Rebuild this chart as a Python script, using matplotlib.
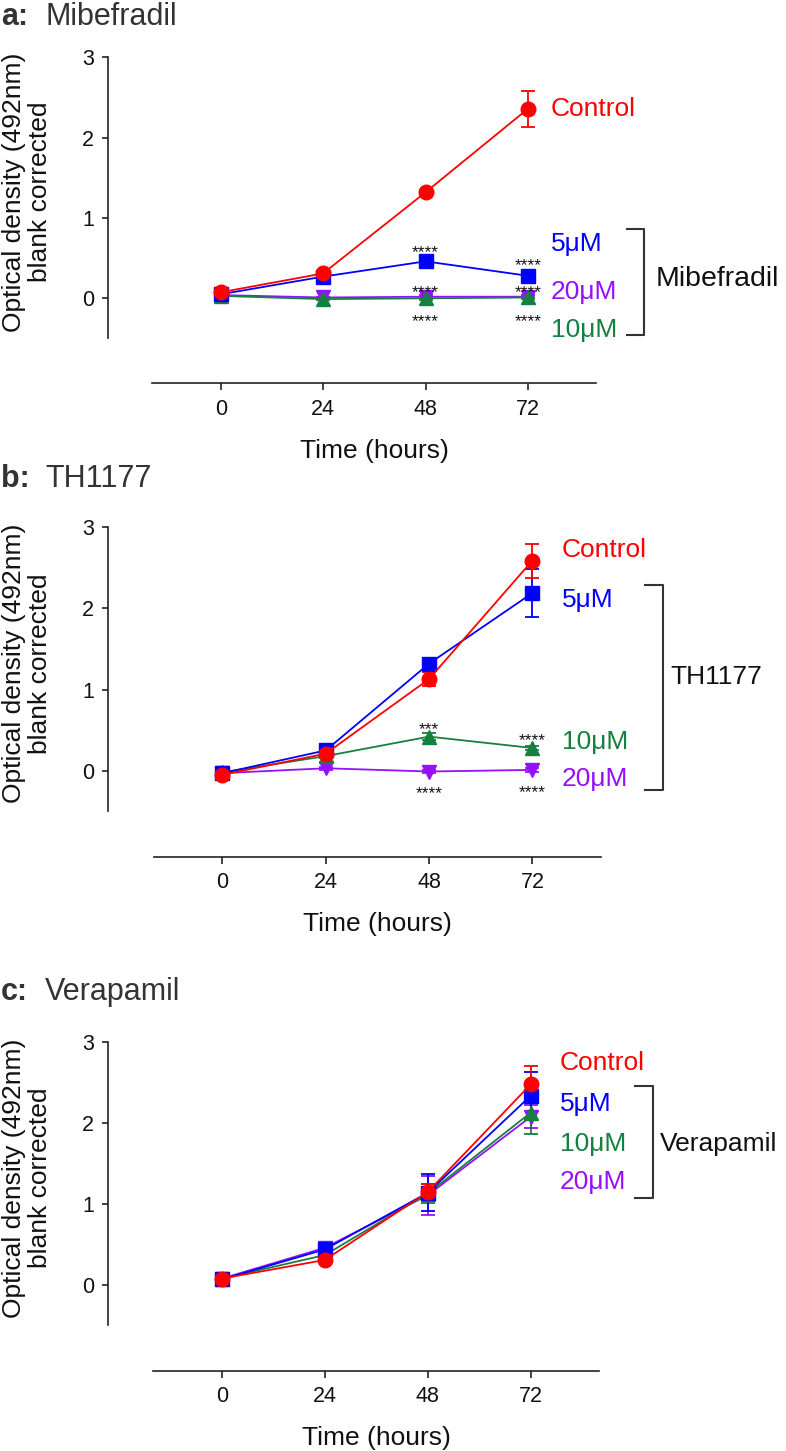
import matplotlib
matplotlib.use("Agg")
import matplotlib.pyplot as plt
from matplotlib.transforms import offset_copy

plt.rcParams['font.family'] = ['Liberation Sans', 'DejaVu Sans']

W, H = 786, 1451
DPI = 100

# ---------------- data ----------------
time_h = [0, 24, 48, 72]
time_ticks = [0, 24, 48, 72]
y_ticks = [0, 1, 2, 3]
groups = ["Control", "5μM", "10μM", "20μM"]
colors = {"Control": "#FF0000", "5μM": "#0000FF", "10μM": "#158040", "20μM": "#9510FF"}
markers = {"Control": "o", "5μM": "s", "10μM": "^", "20μM": "v"}

# Panel a: Mibefradil
mib_control = [0.075, 0.31, 1.32, 2.36]
mib_5 = [0.05, 0.27, 0.46, 0.28]
mib_10 = [0.03, -0.01, 0.00, 0.01]
mib_20 = [0.04, 0.01, 0.02, 0.02]
mib_control_err = [0.01, 0.02, 0.03, 0.225]
mib_5_err = [0.01, 0.02, 0.03, 0.02]
mib_10_err = [0.01, 0.01, 0.02, 0.02]
mib_20_err = [0.01, 0.01, 0.02, 0.02]

# Panel b: TH1177
th_control = [-0.05, 0.21, 1.13, 2.59]
th_5 = [-0.03, 0.25, 1.32, 2.19]
th_10 = [-0.02, 0.18, 0.42, 0.28]
th_20 = [-0.03, 0.03, -0.01, 0.01]
th_control_err = [0.02, 0.03, 0.09, 0.21]
th_5_err = [0.02, 0.03, 0.06, 0.30]
th_10_err = [0.02, 0.02, 0.04, 0.03]
th_20_err = [0.02, 0.02, 0.02, 0.02]

# Panel c: Verapamil
ver_control = [0.08, 0.31, 1.15, 2.48]
ver_5 = [0.07, 0.44, 1.14, 2.34]
ver_10 = [0.08, 0.37, 1.13, 2.13]
ver_20 = [0.08, 0.46, 1.11, 2.08]
ver_control_err = [0.02, 0.03, 0.10, 0.23]
ver_5_err = [0.02, 0.03, 0.23, 0.29]
ver_10_err = [0.02, 0.03, 0.12, 0.26]
ver_20_err = [0.02, 0.03, 0.24, 0.14]

# significance marks: (time, y value of star centre, text)
mib_stars = [(48, 0.635, "****"), (72, 0.47, "****"), (48, 0.137, "****"),
             (72, 0.137, "****"), (48, -0.22, "****"), (72, -0.22, "****")]
th_stars = [(48, 0.575, "***"), (72, 0.44, "****"), (48, -0.22, "****"), (72, -0.20, "****")]
ver_stars = []

fig = plt.figure(figsize=(W / DPI, H / DPI), dpi=DPI)

DARK = "#222222"
STAR_FS = 12.5
LABEL_FS = 19
TICK_FS = 15.5
AXT_FS = 19


def make_panel(spec):
    y0, y3 = spec["y0px"], spec["y3px"]
    unit = (y0 - y3) / 3.0
    xaxis_px = spec["xaxis_px"]
    x0, x72 = spec["x0px"], spec["x72px"]
    k = (x72 - x0) / 72.0
    yaxis_px = 107.8
    right_px = W
    top_px = y3 - 6
    ylo = -(xaxis_px - y0) / unit
    yhi = 3 + 6 / unit
    xlo = (yaxis_px - x0) / k
    xhi = (right_px - x0) / k
    ax = fig.add_axes([yaxis_px / W, 1 - xaxis_px / H,
                       (right_px - yaxis_px) / W, (xaxis_px - top_px) / H])
    ax.set_xlim(xlo, xhi)
    ax.set_ylim(ylo, yhi)
    ax.patch.set_alpha(0)
    for s in ["top", "right"]:
        ax.spines[s].set_visible(False)
    ax.spines["left"].set_bounds(-0.5, 3)
    ax.spines["bottom"].set_bounds(-16, 88)
    for s in ["left", "bottom"]:
        ax.spines[s].set_linewidth(1.2)
        ax.spines[s].set_color(DARK)
    ax.set_xticks(time_ticks)
    ax.set_yticks(y_ticks)
    ax.tick_params(axis="both", labelsize=TICK_FS, width=1.2, color=DARK, labelcolor="#111111")
    ax.tick_params(axis="y", length=4, pad=6)
    ax.tick_params(axis="x", length=5, pad=6)

    # series: plot 20, 10, 5, control so control is on top
    for name in ["20μM", "10μM", "5μM", "Control"]:
        vals, errs = spec["series"][name]
        ax.errorbar(time_h, vals, yerr=errs, color=colors[name], marker=markers[name],
                    markersize=10.5, linewidth=1.3, elinewidth=1.3, capsize=5, capthick=1.3,
                    clip_on=False, zorder=3)

    # stars
    for t, yv, s in spec["stars"]:
        tr = offset_copy(ax.transData, fig=fig, y=-0.575 * STAR_FS, units="points")
        ax.text(t, yv, s, fontsize=STAR_FS, ha="center", va="baseline", color="#111111",
                transform=tr, zorder=5)

    # colored labels
    for name, (tx, ty) in spec["labels"].items():
        tr = offset_copy(ax.transData, fig=fig, y=-0.358 * LABEL_FS, units="points")
        ax.text(tx, ty, name, fontsize=LABEL_FS, color=colors[name], ha="left",
                va="baseline", transform=tr, clip_on=False)

    # bracket and drug label
    bx1, bx2, btop, bbot = spec["bracket"]
    ax.plot([bx1, bx2, bx2, bx1], [btop, btop, bbot, bbot], color="#333333",
            linewidth=1.5, clip_on=False)
    gx, gy, gname, gsize = spec["group"]
    tr = offset_copy(ax.transData, fig=fig, y=-0.358 * gsize, units="points")
    ax.text(gx, gy, gname, fontsize=gsize, color="#111111", ha="left", va="baseline",
            transform=tr, clip_on=False)

    # x label
    xtr = offset_copy(ax.get_xaxis_transform(), fig=fig,
                      y=-65 * 72 / DPI - 0.358 * AXT_FS, units="points")
    ax.text(36, 0, "Time (hours)", fontsize=AXT_FS, ha="center", va="baseline",
            color="#111111", transform=xtr)

    # y label
    ymid = (y0 + 0.5 * unit + y3) / 2.0
    fig.text(27 / W, 1 - (ymid - 6) / H, "Optical density (492nm)\nblank corrected",
             rotation=90, fontsize=AXT_FS, ha="center", va="center", multialignment="center",
             color="#111111", linespacing=1.12)

    # panel title
    fig.text(1 / W, 1 - spec["title_px"] / H, spec["title_letter"], fontsize=22,
             fontweight="bold", color="#333333", ha="left", va="baseline")
    fig.text(45 / W, 1 - spec["title_px"] / H, spec["title_name"], fontsize=22,
             color="#333333", ha="left", va="baseline")
    return ax


panels = [
    dict(y0px=298.3, y3px=57.3, xaxis_px=383.3, x0px=220.7, x72px=528.0,
         series={"Control": (mib_control, mib_control_err), "5μM": (mib_5, mib_5_err),
                 "10μM": (mib_10, mib_10_err), "20μM": (mib_20, mib_20_err)},
         stars=mib_stars,
         labels={"Control": (77.4, 2.39), "5μM": (77.4, 0.705), "20μM": (77.4, 0.11),
                 "10μM": (77.4, -0.37)},
         bracket=(95.3, 99.2, 0.86, -0.46),
         group=(101.8, 0.28, "Mibefradil", 20.5),
         title_px=25, title_letter="a:", title_name="Mibefradil"),
    dict(y0px=770.7, y3px=527.3, xaxis_px=856.7, x0px=222.4, x72px=532.4,
         series={"Control": (th_control, th_control_err), "5μM": (th_5, th_5_err),
                 "10μM": (th_10, th_10_err), "20μM": (th_20, th_20_err)},
         stars=th_stars,
         labels={"Control": (78.8, 2.75), "5μM": (78.8, 2.14), "10μM": (78.8, 0.38),
                 "20μM": (78.8, -0.07)},
         bracket=(98.1, 102.3, 2.29, -0.24),
         group=(104.0, 1.18, "TH1177", 19),
         title_px=487, title_letter="b:", title_name="TH1177"),
    dict(y0px=1285.0, y3px=1042.3, xaxis_px=1370.7, x0px=222.0, x72px=530.7,
         series={"Control": (ver_control, ver_control_err), "5μM": (ver_5, ver_5_err),
                 "10μM": (ver_10, ver_10_err), "20μM": (ver_20, ver_20_err)},
         stars=ver_stars,
         labels={"Control": (78.8, 2.77), "5μM": (78.8, 2.27), "10μM": (78.8, 1.77),
                 "20μM": (78.8, 1.30)},
         bracket=(96.3, 100.6, 2.46, 1.08),
         group=(102.2, 1.77, "Verapamil", 19),
         title_px=1000, title_letter="c:", title_name="Verapamil"),
]

for p in panels:
    make_panel(p)

fig.savefig("out.png", dpi=DPI)
